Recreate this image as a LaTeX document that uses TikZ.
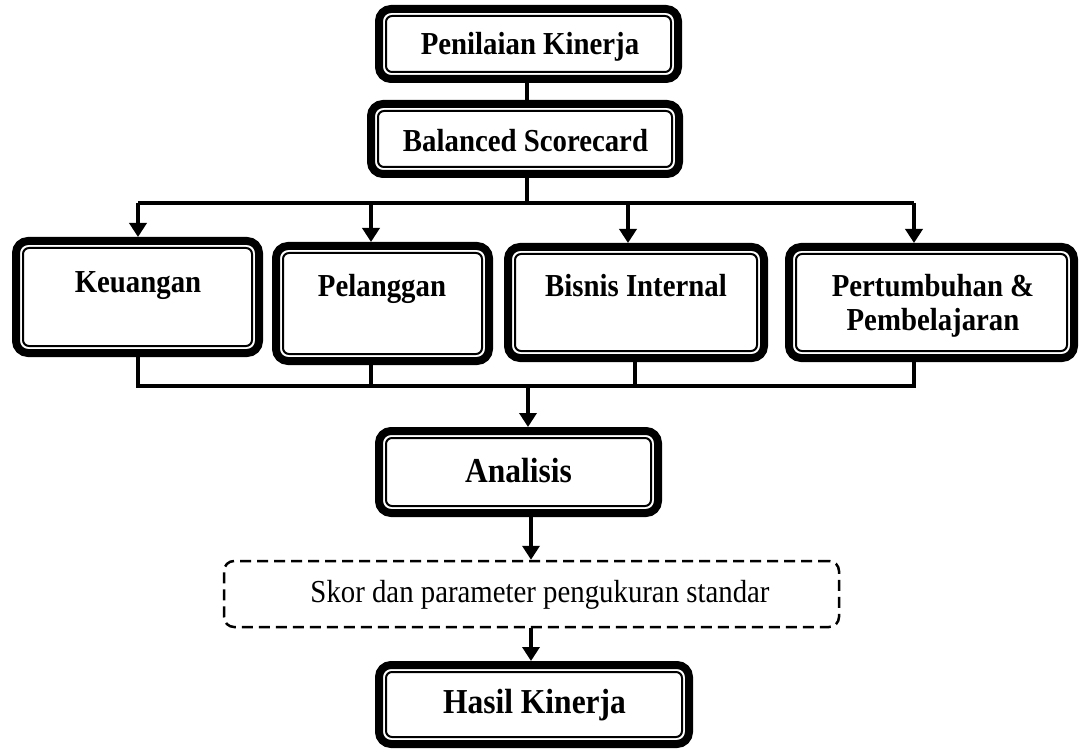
\documentclass[tikz,border=0pt]{standalone}
\usepackage{fontspec}
\setmainfont{Liberation Serif}
\newfontfamily\condfont[FakeStretch=0.9]{Liberation Serif}
\usetikzlibrary{arrows.meta}
\begin{document}
\begin{tikzpicture}[x=1pt,y=-1pt,
  tbox/.style={draw, line width=8pt, rounded corners=12pt, fill=white, inner sep=0pt},
  inbox/.style={draw, line width=2pt, rounded corners=6pt},
  lbl/.style={font=\condfont\fontsize{32}{33}\selectfont\bfseries, anchor=base, align=center, inner sep=0pt},
  big/.style={font=\condfont\fontsize{35}{40}\selectfont\bfseries, anchor=base, inner sep=0pt},
  plain/.style={font=\condfont\fontsize{32}{33}\selectfont, anchor=base, inner sep=0pt},
  conn/.style={line width=3.5pt},
  arr/.style={line width=3.5pt, -{Triangle[width=17pt,length=14pt]}},
  dbox/.style={draw, line width=2.5pt, dash pattern=on 11pt off 6pt, rounded corners=10pt, inner sep=0pt}]
\useasboundingbox[fill=white] (0,0) rectangle (1081,751);

% boxes
\node[tbox, minimum width=299pt, minimum height=70pt] (pk) at (528.5,44) {};
\node[tbox, minimum width=308pt, minimum height=70pt] (bs) at (525,139) {};
\node[tbox, minimum width=243pt, minimum height=112pt] (ke) at (137.5,297) {};
\node[tbox, minimum width=213pt, minimum height=115pt] (pe) at (382.5,303.5) {};
\node[tbox, minimum width=256pt, minimum height=111pt] (bi) at (636,302.5) {};
\node[tbox, minimum width=285pt, minimum height=111pt] (pp) at (931.5,302.5) {};
\node[tbox, minimum width=279pt, minimum height=82pt] (an) at (518.5,472) {};
\node[dbox, minimum width=615pt, minimum height=66pt] (sk) at (531.5,594) {};
\node[tbox, minimum width=310pt, minimum height=79pt] (hk) at (534,704.5) {};

\foreach \n in {pk,bs,ke,pe,bi,pp,an,hk}
  \draw[inbox] ([shift={(11pt,11pt)}]\n.south west) rectangle ([shift={(-11pt,-11pt)}]\n.north east);

% texts
\node[lbl] (pkT) at (530,55) {Penilaian Kinerja};
\node[lbl] (bsT) at (525.5,152) {Balanced Scorecard};
\node[lbl] (keT) at (138,292) {Keuangan};
\node[lbl] (peT) at (382,297) {Pelanggan};
\node[lbl] (biT) at (636,297) {Bisnis Internal};
\node[lbl] (ppT) at (933,330) {Pertumbuhan \&\\Pembelajaran};
\node[big] (anT) at (518.5,482) {Analisis};
\node[plain] (skT) at (540,602) {Skor dan parameter pengukuran standar};
\node[big] (hkT) at (534.5,713) {Hasil Kinerja};

% connectors
\coordinate (cx) at (527,0);
\coordinate (cy) at (531,0);
\coordinate (cz) at (528,0);
\coordinate (br) at (527,203);
\coordinate (a1) at (138,203);
\coordinate (a2) at (371,203);
\coordinate (a3) at (628,203);
\coordinate (a4) at (914,203);
\coordinate (b1) at (138,386);
\coordinate (b2) at (371,386);
\coordinate (b3) at (635,386);
\coordinate (b4) at (914,386);
\coordinate (bm) at (528,386);

\draw[conn] (pk.south -| cx) -- (bs.north -| cx);
\draw[conn] (bs.south -| cx) -- (br);
\draw[conn] (a1) -- (a4);
\draw[arr] (a1) -- (a1 |- ke.north);
\draw[arr] (a2) -- (a2 |- pe.north);
\draw[arr] (a3) -- (a3 |- bi.north);
\draw[arr] (a4) -- (a4 |- pp.north);

\draw[conn] (b1 |- ke.south) -- (b1) -- (b4) -- (b4 |- pp.south);
\draw[conn] (b2 |- pe.south) -- (b2);
\draw[conn] (b3 |- bi.south) -- (b3);

\draw[arr] (bm) -- (an.north -| cz);
\draw[arr] (an.south -| cy) -- (sk.north -| cy);
\draw[arr] (sk.south -| cy) -- (hk.north -| cy);
\end{tikzpicture}
\end{document}
